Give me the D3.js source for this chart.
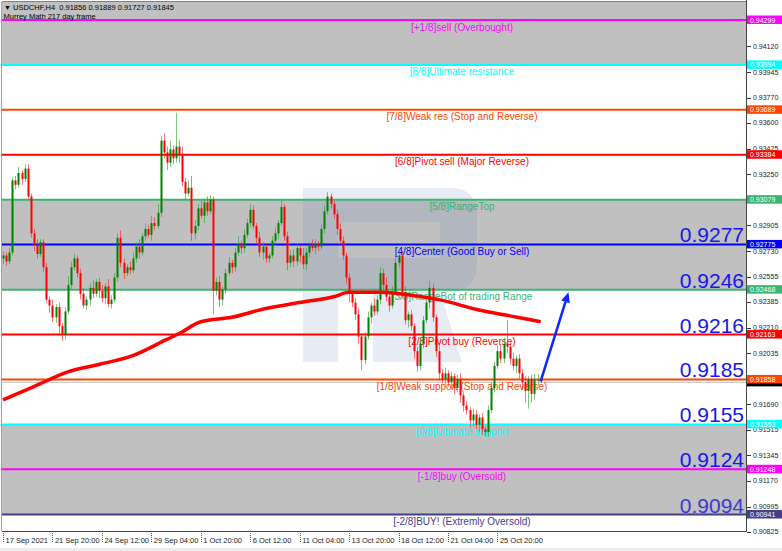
<!DOCTYPE html>
<html><head><meta charset="utf-8">
<script src="https://cdn.jsdelivr.net/npm/d3@7"></script>
<style>body{margin:0;background:#fff}svg{display:block}text{font-family:"Liberation Sans",Arial,sans-serif}</style>
</head><body><svg id="c" width="782" height="551"></svg>
<script>
// ---------- data ----------
const headerText = "USDCHF,H4  0.91856 0.91889 0.91727 0.91845";
const subHeader = "Murrey Math 217 day frame";
const levelNames = ["[+1/8]sell (Overbought)","[8/8]Ultimate resistance","[7/8]Weak res (Stop and Reverse)","[6/8]Pivot sell (Major Reverse)","[5/8]RangeTop","[4/8]Center (Good Buy or Sell)","[3/8]RangeBot of trading Range","[2/8]Pivot buy (Reverse)","[1/8]Weak support (Stop and Reverse)","[0/8]Ultimate support","[-1/8]buy (Oversold)","[-2/8]BUY! (Extremly Oversold)"];
const levelPrices = [0.94299,0.93994,0.93689,0.93384,0.93079,0.92775,0.92468,0.92163,0.91858,0.91553,0.91248,0.90941];
const levelColors = ["#ff00ff","#00ffff","#ff4500","#ff0000","#3cb371","#0000ff","#3cb371","#ff0000","#ff4500","#00ffff","#ff00ff","#483d8b"];
const bigLabels = ["0.9277","0.9246","0.9216","0.9185","0.9155","0.9124","0.9094"]; // levels 4/8 .. -2/8
const bandPairs = [[null,0.93994],[0.93079,0.92468],[0.91553,0.90941]];
const yTickValues = [0.94120,0.93945,0.93770,0.93600,0.93425,0.93250,0.92905,0.92730,0.92555,0.92385,0.92210,0.92035,0.91690,0.91515,0.91345,0.91170,0.90995,0.90825];
const yTickLabels = ["0.94120","0.93945","0.93770","0.93600","0.93425","0.93250","0.92905","0.92730","0.92555","0.92385","0.92210","0.92035","0.91690","0.91515","0.91345","0.91170","0.90995","0.90825"];
const xTickIndex = [0,16,32,48,64,80,96,112,128,144,160];
const xTickLabels = ["17 Sep 2021","21 Sep 20:00","24 Sep 12:00","29 Sep 04:00","1 Oct 20:00","6 Oct 12:00","11 Oct 04:00","13 Oct 20:00","18 Oct 12:00","21 Oct 04:00","25 Oct 20:00"];
const bidPrice = 0.91845;
const firstOpen = 0.9268;
const closes = [0.9270,0.9266,0.9272,0.9321,0.9318,0.9326,0.9322,0.9329,0.9310,0.9285,
0.9277,0.9271,0.9279,0.9262,0.9240,0.9236,0.9228,0.9235,0.9222,0.9216,0.9232,
0.9250,0.9262,0.9268,0.9258,0.9244,0.9236,0.9240,
0.9248,0.9244,0.9252,0.9246,0.9241,0.9249,0.9237,0.9240,
0.9255,0.9282,0.9265,0.9258,0.9262,0.9260,
0.9268,0.9276,0.9272,0.9283,0.9288,0.9284,0.9292,0.9290,
0.9299,0.9348,0.9340,0.9333,0.9342,0.9336,0.9344,0.9338,
0.9320,0.9312,0.9316,0.9285,
0.9290,0.9302,0.9297,0.9306,0.9300,0.9308,
0.9246,0.9252,0.9240,0.9247,
0.9258,0.9265,0.9262,0.9272,0.9278,0.9275,0.9284,0.9292,0.9301,
0.9290,0.9282,0.9272,0.9276,0.9268,
0.9270,0.9280,0.9285,0.9292,0.9303,
0.9283,0.9265,0.9270,
0.9266,0.9275,0.9270,0.9264,0.9272,0.9277,0.9275,0.9278,0.9276,
0.9288,0.9300,0.9310,0.9305,
0.9298,0.9288,0.9280,0.9270,0.9255,
0.9244,0.9238,0.9230,0.9215,0.9199,
0.9215,0.9228,0.9236,0.9232,0.9240,
0.9258,0.9250,0.9242,0.9236,0.9245,
0.9265,0.9270,0.9245,0.9226,0.9230,0.9222,
0.9205,0.9195,0.9210,0.9226,0.9238,0.9248,
0.9228,0.9205,0.9190,0.9186,0.9190,0.9184,0.9188,
0.9180,0.9186,0.9175,0.9168,
0.9165,0.9158,0.9162,0.9155,0.9160,0.9152,0.9150,
0.9165,0.9180,0.9195,0.9205,0.9200,0.9210,0.9208,
0.9200,0.9195,0.9200,0.9190,
0.9184,0.9178,0.9186,0.9176,0.91856,
0.91856,0.91845];
// wick lengths in pips
const wickUp = [3,2,3,2,3,4,2,3,3,2,3,4,2,2,3,2,4,2,3,2,3,6,4,3,2,3,4,2,3,5,2,3,4,2,5,3,3,3,5,3,2,4,4,3,5,2,4,3,5,4,6,3,5,4,6,3,23,4,6,3,5,8,4,3,5,2,4,3,2,3,4,2,3,4,2,3,5,2,4,3,4,3,2,4,3,2,2,3,4,2,4,2,3,4,4,3,2,5,3,2,4,3,2,3,4,3,2,2,3,4,3,2,3,2,3,4,2,3,4,2,5,3,4,3,5,3,4,6,4,3,4,2,3,2,3,4,3,4,5,3,2,4,3,4,2,3,2,3,4,2,3,2,4,3,2,3,2,3,4,3,4,5,4,16,3,4,2,3,3,4,2,3,4,4,0.3];
const wickDn = [4,3,2,2,3,2,4,2,2,3,4,3,2,3,2,5,3,4,5,4,3,2,3,2,3,4,2,3,4,3,2,5,3,4,2,3,2,3,3,4,2,3,2,3,4,2,3,2,4,3,2,3,4,5,3,4,3,5,3,4,2,5,4,3,2,5,3,2,16,3,5,4,3,2,4,3,2,4,3,2,3,2,4,3,5,3,3,2,3,4,2,3,5,3,4,3,5,3,4,3,2,4,3,2,3,2,3,3,4,2,3,4,6,3,4,5,7,3,2,4,3,2,3,4,3,4,2,2,3,4,3,5,3,5,4,3,3,2,4,3,4,5,3,4,3,5,4,3,5,4,3,5,4,3,5,4,3,3,2,3,2,3,3,4,4,3,5,4,5,8,12,6,4,4,1.2];
const maIndex = [0,10,21,31,42,53,57,64,74,85,96,107,112,122,132,141,154,164,174];
const maValues = [0.9172,0.9181,0.9191,0.9196,0.9202,0.9213,0.9217,0.9225,0.9228,0.9234,0.9238,0.9242,0.9245,0.9245,0.9243,0.9240,0.9233,0.9229,0.9225];
const arrowFrom = [174, 0.91845];
const arrowTo = [183, 0.9245];

// ---------- layout ----------
const svg = d3.select("#c");
const plotL = 2, plotR = 746, plotT = 2, plotB = 531;
const y = d3.scaleLinear().domain([0.90941, 0.94299]).range([514.5, 20]);
const x = d3.scaleLinear().domain([0, 240]).range([3, 3 + 240 * 3.09]);
const pip = 0.0001;

svg.append("rect").attr("width",782).attr("height",551).attr("fill","#fff");
svg.append("defs").append("clipPath").attr("id","plot").append("rect")
  .attr("x",plotL).attr("y",plotT).attr("width",plotR-plotL).attr("height",plotB-plotT);
const g = svg.append("g").attr("clip-path","url(#plot)");

// bands
g.selectAll("rect.band").data(bandPairs).enter().append("rect")
  .attr("x",plotL).attr("width",plotR-plotL)
  .attr("y",d=> d[0]===null ? plotT : y(d[0]))
  .attr("height",d=> y(d[1]) - (d[0]===null ? plotT : y(d[0])))
  .attr("fill","#c0c0c0");

// watermark
g.append("path").attr("fill","rgba(110,135,185,0.17)").attr("fill-rule","evenodd")
  .attr("d","M303,188 H450 Q477,188 477,215 V262 Q477,292 450,292 H440 L462,362 H373 V292 H338 V362 H303 Z M338,222 H440 V258 H338 Z");

// level lines
g.selectAll("line.lvl").data(levelPrices).enter().append("line")
  .attr("x1",plotL).attr("x2",plotR).attr("y1",d=>y(d)).attr("y2",d=>y(d))
  .attr("stroke",(d,i)=>levelColors[i]).attr("stroke-width",2);
// bid line
g.append("line").attr("x1",plotL).attr("x2",plotR).attr("y1",y(bidPrice)+1).attr("y2",y(bidPrice)+1)
  .attr("stroke","#c8c8c8").attr("stroke-width",1);

// level names
g.selectAll("text.lvl").data(levelPrices).enter().append("text")
  .attr("x",462).attr("y",d=>y(d)+10.5).attr("text-anchor","middle")
  .attr("font-size","10px").attr("fill",(d,i)=>levelColors[i]).text((d,i)=>levelNames[i]);

// big labels
g.selectAll("text.big").data(bigLabels).enter().append("text")
  .attr("x",744).attr("y",(d,i)=>y(levelPrices[i+5])-2).attr("text-anchor","end")
  .attr("font-size","21px").attr("fill",(d,i)=> i===6 ? "#3a3ad0" : "#1515f0").text(d=>d);

// candles
const candles = closes.map((c,i)=>{
  const o = i===0 ? firstOpen : closes[i-1];
  const hi = Math.max(o,c) + (wickUp[i] ?? 2)*pip;
  const lo = Math.min(o,c) - (wickDn[i] ?? 2)*pip;
  return {i,o,c,hi,lo};
});
const cg = g.append("g");
cg.selectAll("line.wick").data(candles).enter().append("line")
  .attr("x1",d=>Math.round(x(d.i))+0.5).attr("x2",d=>Math.round(x(d.i))+0.5)
  .attr("y1",d=>y(d.hi)).attr("y2",d=>y(d.lo))
  .attr("stroke",d=>d.c>=d.o?"#2e9e2e":"#ff2020").attr("stroke-opacity",0.6).attr("stroke-width",1);
cg.selectAll("rect.body").data(candles).enter().append("rect")
  .attr("x",d=>Math.round(x(d.i))-0.5).attr("width",2)
  .attr("y",d=>y(Math.max(d.o,d.c)))
  .attr("height",d=>Math.max(1,Math.abs(y(d.o)-y(d.c))))
  .attr("fill",d=>d.c>=d.o?"#008000":"#ff0000");

// moving average
const maLine = d3.line().x(d=>x(d[0])).y(d=>y(d[1])).curve(d3.curveMonotoneX);
g.append("path").datum(maIndex.map((m,i)=>[m,maValues[i]]))
  .attr("d",maLine).attr("fill","none").attr("stroke","#ff0000").attr("stroke-width",3.5);

// arrow
const ax1=x(arrowFrom[0]), ay1=y(arrowFrom[1]), ax2=x(arrowTo[0]), ay2=y(arrowTo[1]);
const ang = Math.atan2(ay2-ay1, ax2-ax1);
const hl = 10, hw = 4.5;
const bx = ax2 - hl*Math.cos(ang), by = ay2 - hl*Math.sin(ang);
g.append("line").attr("x1",ax1).attr("y1",ay1).attr("x2",bx).attr("y2",by)
  .attr("stroke","#0a28ff").attr("stroke-width",2.5);
g.append("path").attr("fill","#0a28ff")
  .attr("d",`M${ax2},${ay2} L${bx+hw*Math.sin(ang)},${by-hw*Math.cos(ang)} L${bx-hw*Math.sin(ang)},${by+hw*Math.cos(ang)} Z`);

// frame
svg.append("line").attr("x1",plotL).attr("x2",plotR).attr("y1",1.5).attr("y2",1.5).attr("stroke","#808080").attr("stroke-width",1);
svg.append("line").attr("x1",1.5).attr("x2",1.5).attr("y1",plotT).attr("y2",plotB).attr("stroke","#a0a0a0").attr("stroke-width",1);
svg.append("line").attr("x1",746.5).attr("x2",746.5).attr("y1",0).attr("y2",plotB+0.5).attr("stroke","#444").attr("stroke-width",1);
svg.append("line").attr("x1",plotL).attr("x2",746.5).attr("y1",plotB+0.5).attr("y2",plotB+0.5).attr("stroke","#444").attr("stroke-width",1);
svg.append("rect").attr("x",0).attr("y",548).attr("width",782).attr("height",3).attr("fill","#ececec");

// header
svg.append("text").attr("x",4).attr("y",10).attr("font-size","7px").attr("fill","#000").text("\u25BC");
svg.append("text").attr("x",13).attr("y",10).attr("font-size","7.5px").attr("fill","#000").attr("xml:space","preserve").style("white-space","pre").text(headerText);
svg.append("text").attr("x",3.5).attr("y",19).attr("font-size","7.5px").attr("fill","#000").text(subHeader);

// right axis ticks
const ra = svg.append("g");
ra.selectAll("line.t").data(yTickValues).enter().append("line")
  .attr("x1",747).attr("x2",751).attr("y1",d=>Math.round(y(d))+0.5).attr("y2",d=>Math.round(y(d))+0.5)
  .attr("stroke","#333");
ra.selectAll("text.t").data(yTickValues).enter().append("text")
  .attr("x",753).attr("y",d=>y(d)+2.5).attr("font-size","7px").attr("fill","#222").text((d,i)=>yTickLabels[i]);
// bid box (behind)
ra.append("rect").attr("x",747).attr("y",y(bidPrice)-3.5).attr("width",35).attr("height",8.5).attr("fill","#000");
// level boxes
ra.selectAll("rect.b").data(levelPrices).enter().append("rect")
  .attr("x",747).attr("y",d=>y(d)-4.5).attr("width",35).attr("height",8.5)
  .attr("fill",(d,i)=>levelColors[i]);
ra.selectAll("text.b").data(levelPrices).enter().append("text")
  .attr("x",750).attr("y",d=>y(d)+2.5).attr("font-size","7px").attr("fill","#fff")
  .text(d=>d.toFixed(5));

// x axis
const xa = svg.append("g");
xa.selectAll("line.t").data(xTickIndex).enter().append("line")
  .attr("x1",d=>Math.round(x(d))+0.5).attr("x2",d=>Math.round(x(d))+0.5)
  .attr("y1",533).attr("y2",542).attr("stroke","#555").attr("stroke-dasharray","1,1");
xa.selectAll("text.t").data(xTickIndex).enter().append("text")
  .attr("x",d=>x(d)+2.5).attr("y",543).attr("font-size","7.5px").attr("fill","#222")
  .text((d,i)=>xTickLabels[i]);
</script></body></html>
